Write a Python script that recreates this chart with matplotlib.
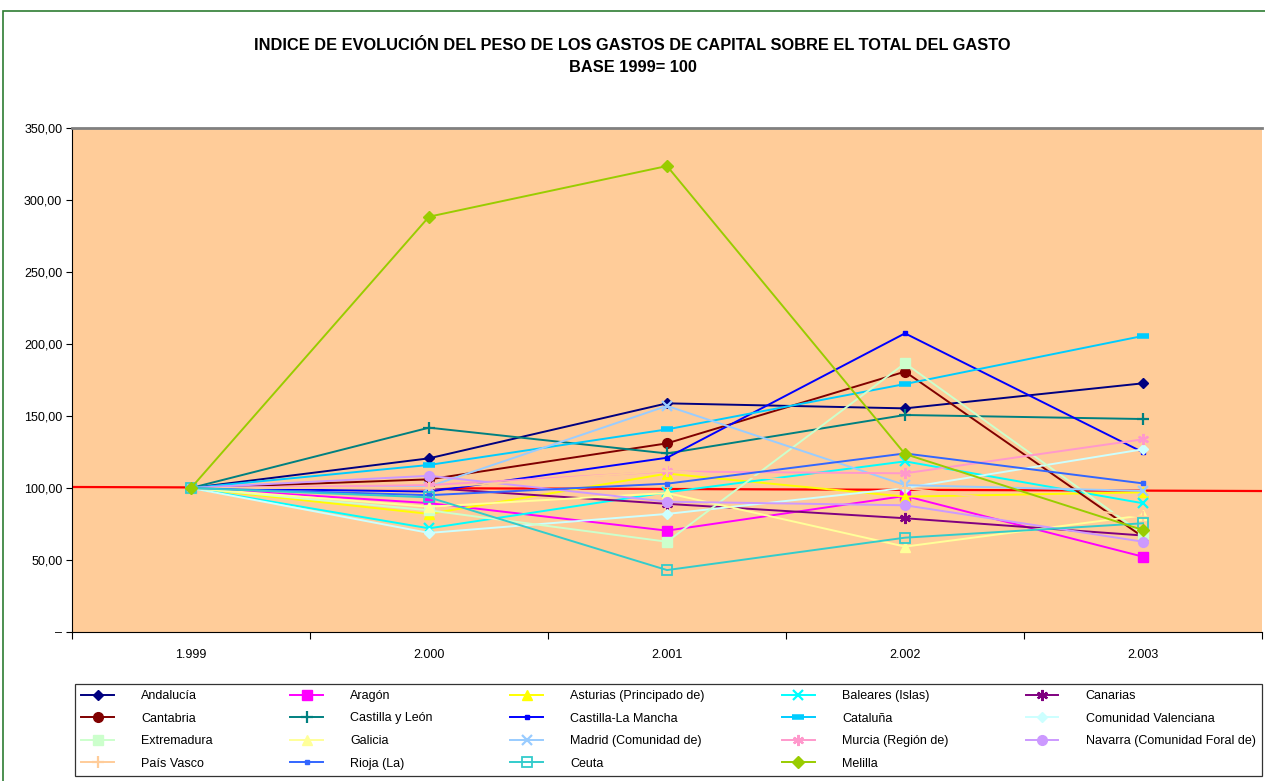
import matplotlib
matplotlib.use("Agg")
import matplotlib.pyplot as plt
from matplotlib.patches import Rectangle
from matplotlib.ticker import FixedLocator, FuncFormatter

plt.rcParams['font.family'] = ['Liberation Sans', 'DejaVu Sans']

years = ["1.999", "2.000", "2.001", "2.002", "2.003"]

andalucia = [100, 120.6, 158.8, 155.3, 172.7]
aragon = [100, 89.5, 70.4, 94.5, 52.3]
asturias = [100, 82.0, 110.0, 94.0, 97.0]
baleares = [100, 72.0, 97.0, 118.5, 89.4]
canarias = [100, 100.0, 89.0, 79.0, 67.0]
cantabria = [100, 106.0, 131.0, 180.8, 66.0]
castilla_leon = [100, 141.9, 124.0, 150.7, 147.9]
castilla_mancha = [100, 97.5, 121.0, 207.4, 124.8]
cataluna = [100, 116.0, 140.7, 172.2, 205.6]
com_valenciana = [100, 68.8, 82.0, 100.0, 126.9]
extremadura = [100, 84.5, 62.7, 186.6, 68.0]
galicia = [100, 87.0, 96.5, 59.3, 81.0]
madrid = [100, 101.0, 157.0, 102.0, 98.0]
murcia = [100, 102.0, 111.5, 110.2, 133.8]
navarra = [100, 108.5, 90.5, 88.0, 62.7]
pais_vasco = [100, 100.0, 112.0, 100.0, 80.0]
rioja = [100, 95.0, 103.0, 124.0, 103.2]
ceuta = [100, 93.5, 43.0, 65.5, 75.5]
melilla = [100, 288.4, 323.6, 123.6, 70.8]

ref_x = [-0.5, 4.5]
ref_y = [100.7, 97.9]

yticks = [0, 50, 100, 150, 200, 250, 300, 350]

asterisk = (6, 2, 0)
series = [
    ("Andalucía", andalucia, "#000080", "D", 5, None),
    ("Aragón", aragon, "#FF00FF", "s", 7, None),
    ("Asturias (Principado de)", asturias, "#FFFF00", "^", 7, None),
    ("Baleares (Islas)", baleares, "#00FFFF", "x", 7, None),
    ("Canarias", canarias, "#800080", asterisk, 8, None),
    ("Cantabria", cantabria, "#800000", "o", 7, None),
    ("Castilla y León", castilla_leon, "#008080", "+", 9, None),
    ("Castilla-La Mancha", castilla_mancha, "#0000FF", "s", 3.5, None),
    ("Cataluña", cataluna, "#00CCFF", "_", 8, None),
    ("Comunidad Valenciana", com_valenciana, "#CCFFFF", "D", 5, None),
    ("Extremadura", extremadura, "#CCFFCC", "s", 7, None),
    ("Galicia", galicia, "#FFFF99", "^", 7, None),
    ("Madrid (Comunidad de)", madrid, "#99CCFF", "x", 7, None),
    ("Murcia (Región de)", murcia, "#FF99CC", asterisk, 8, None),
    ("Navarra (Comunidad Foral de)", navarra, "#CC99FF", "o", 7, None),
    ("País Vasco", pais_vasco, "#FFCC99", "+", 9, None),
    ("Rioja (La)", rioja, "#3366FF", "s", 3.5, None),
    ("Ceuta", ceuta, "#33CCCC", "s", 7, "none"),
    ("Melilla", melilla, "#99CC00", "D", 6, None),
]

fig = plt.figure(figsize=(12.65, 7.81), dpi=100)
fig.patch.set_facecolor("white")
fig.patches.append(Rectangle((3 / 1265, -0.01), 1.0, 1 - 11 / 781 + 0.01, transform=fig.transFigure,
                             fill=False, edgecolor="#2E7D32", linewidth=1.2))

ax = fig.add_axes([72 / 1265, 149 / 781, 1190 / 1265, 504 / 781])
ax.set_facecolor("#FFCC99")

x = list(range(len(years)))
handles = []
for name, vals, color, marker, ms, mfc in series:
    kw = dict(color=color, marker=marker, markersize=ms, linewidth=1.4,
              markeredgecolor=color, label=name)
    if mfc is not None:
        kw["markerfacecolor"] = mfc
        kw["markeredgewidth"] = 1.3
    if marker in ("x", "+", "_") or marker == asterisk:
        kw["markeredgewidth"] = 1.6 if marker != "_" else 4
    h, = ax.plot(x, vals, **kw)
    handles.append(h)

ax.plot(ref_x, ref_y, color="#FF0000", linewidth=1.6, zorder=1)

ax.set_xlim(-0.5, 4.5)
ax.set_ylim(0, 350)
ax.xaxis.set_major_locator(FixedLocator([i - 0.5 for i in range(6)]))
ax.set_xticklabels([])
ax.set_xticks(x, minor=True)
ax.set_xticklabels(years, minor=True, fontsize=9)
ax.tick_params(axis="x", which="minor", length=0, pad=12)
ax.tick_params(axis="x", which="major", length=5, direction="out", color="black")

ax.set_yticks(yticks)
ax.yaxis.set_major_formatter(FuncFormatter(lambda v, p: "–" if v == 0 else f"{v:.2f}".replace(".", ",")))
ax.tick_params(axis="y", length=4, direction="out", labelsize=9, pad=3)

ax.spines["right"].set_visible(False)
ax.spines["top"].set_color("#808080")
ax.spines["top"].set_linewidth(2)
ax.spines["left"].set_color("black")
ax.spines["bottom"].set_color("black")

fig.text(0.5, 1 - 45 / 781, "INDICE DE EVOLUCIÓN DEL PESO DE LOS GASTOS DE CAPITAL SOBRE EL TOTAL DEL GASTO",
         ha="center", va="center", fontsize=11.8, fontweight="bold")
fig.text(0.5, 1 - 68 / 781, "BASE 1999= 100", ha="center", va="center", fontsize=11.8, fontweight="bold")

# legend laid out row by row (5 columns, 4 rows) as in the original
ncol, nrow = 5, 4
order = [r * ncol + c for c in range(ncol) for r in range(nrow) if r * ncol + c < len(handles)]
leg = fig.legend(handles=[handles[i] for i in order], loc="lower left", ncol=ncol, mode="expand",
                 bbox_to_anchor=(75 / 1265, 5 / 781, 1187 / 1265, 93 / 781),
                 fontsize=9, frameon=True, fancybox=False, edgecolor="black",
                 handlelength=2.6, handletextpad=2.2, labelspacing=0.85, borderpad=0.5,
                 borderaxespad=0)
leg.get_frame().set_linewidth(0.9)

fig.savefig("out.png", dpi=100, facecolor="white")
